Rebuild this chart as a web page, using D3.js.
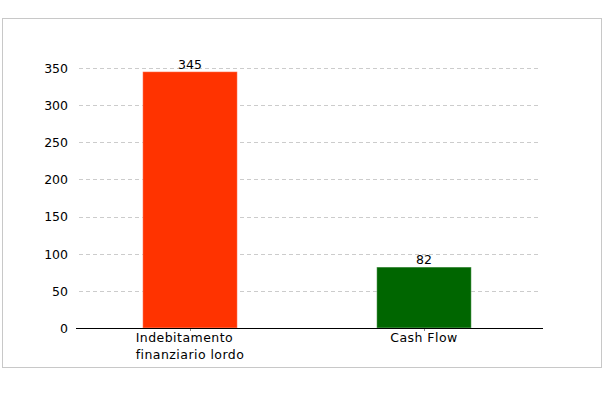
<!DOCTYPE html>
<html><head><meta charset="utf-8">
<script src="https://cdn.jsdelivr.net/npm/d3@7"></script>
<style>
html,body{margin:0;padding:0;background:#fff;}
svg{display:block;font-family:"DejaVu Sans",Verdana,sans-serif;}
</style></head>
<body>
<svg id="chart" width="604" height="403"></svg>
<script>
const categories = [["Indebitamento", "finanziario lordo"], ["Cash Flow"]];
const values = [345, 82];
const barColors = ["#FF3300", "#006600"];
const yTicks = [0, 50, 100, 150, 200, 250, 300, 350];

const svg = d3.select("#chart");
// frame
svg.append("rect").attr("x", 2.5).attr("y", 18.5).attr("width", 599).attr("height", 349)
  .attr("fill", "#fff").attr("stroke", "#c8c8c8").attr("stroke-width", 1);

const y = d3.scaleLinear().domain([0, 350]).range([328, 68]);
const x = d3.scaleBand().domain(d3.range(categories.length)).range([73, 541]).paddingInner(0).paddingOuter(0);
const barW = 94.5;

// grid
svg.append("g").selectAll("line").data(yTicks.filter(d => d > 0)).join("line")
  .attr("x1", 79).attr("x2", 539)
  .attr("y1", d => Math.round(y(d)) + 0.5).attr("y2", d => Math.round(y(d)) + 0.5)
  .attr("stroke", "#cccccc").attr("stroke-dasharray", "4,3");

// y labels
const yAxis = d3.axisLeft(y).tickValues(yTicks).tickSize(0).tickPadding(0);
const ya = svg.append("g").attr("transform", "translate(68,0)").call(yAxis);
ya.select(".domain").remove();
ya.selectAll("text").attr("font-size", 12.5).attr("font-family", '"DejaVu Sans",Verdana,sans-serif').attr("fill", "#000").attr("dy", "0.35em");

// bars
svg.append("g").selectAll("rect").data(values).join("rect")
  .attr("x", (d, i) => x(i) + x.bandwidth() / 2 - barW / 2)
  .attr("width", barW)
  .attr("y", d => y(d))
  .attr("height", d => y(0) - y(d))
  .attr("fill", (d, i) => barColors[i])
  .attr("stroke", "#ffffff").attr("stroke-opacity", 0.35).attr("stroke-width", 1);

// value labels
svg.append("g").selectAll("text").data(values).join("text")
  .attr("x", (d, i) => x(i) + x.bandwidth() / 2)
  .attr("y", d => y(d) - 3)
  .attr("text-anchor", "middle").attr("font-size", 12.5).attr("fill", "#000")
  .text(d => d);

// x axis line
svg.append("line").attr("x1", 76).attr("x2", 543).attr("y1", 328.5).attr("y2", 328.5)
  .attr("stroke", "#000").attr("stroke-width", 1.2);
// ticks
svg.append("g").selectAll("line").data(values).join("line")
  .attr("x1", (d, i) => Math.round(x(i) + x.bandwidth() / 2) + 0.5)
  .attr("x2", (d, i) => Math.round(x(i) + x.bandwidth() / 2) + 0.5)
  .attr("y1", 329).attr("y2", 331).attr("stroke", "#888");

// category labels
categories.forEach((lines, i) => {
  const cx = x(i) + x.bandwidth() / 2;
  const g = svg.append("g");
  const t = g.append("text").attr("font-size", 12.5).attr("letter-spacing", "0.45px").attr("fill", "#000");
  lines.forEach((ln, j) => {
    t.append("tspan").attr("x", 0).attr("y", 342 + j * 17).text(ln);
  });
  const w = d3.max(t.selectAll("tspan").nodes(), n => n.getComputedTextLength());
  t.selectAll("tspan").attr("x", cx - w / 2);
});
</script>
</body></html>
